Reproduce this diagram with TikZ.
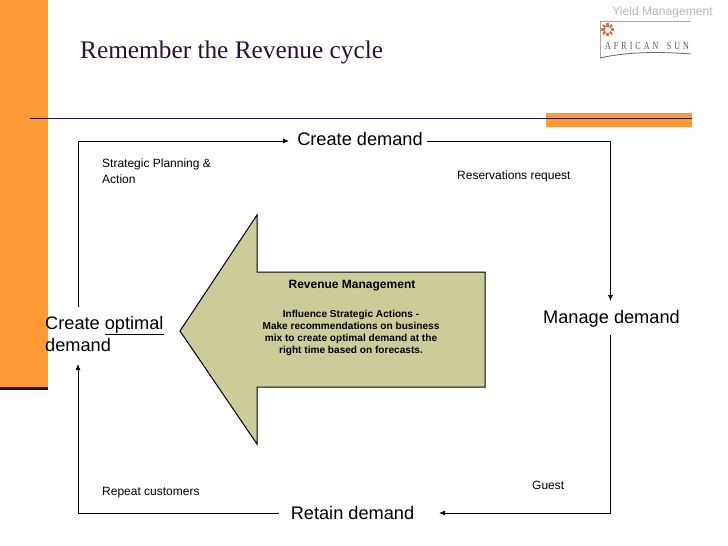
\documentclass[tikz,border=0pt]{standalone}
\usepackage{fontspec}
\setmainfont{Liberation Sans}
\newfontfamily\serifttl{Liberation Serif}
\usetikzlibrary{arrows.meta,calc}
\definecolor{orangebar}{HTML}{FF9933}
\definecolor{darkpurple}{HTML}{2A0F3A}
\definecolor{olive}{HTML}{CCCC99}
\definecolor{greytext}{HTML}{B8B8B8}
\definecolor{logoorange}{HTML}{DD7044}
\tikzset{
  big/.style={font=\fontsize{18.2}{22}\selectfont, text=black, inner xsep=8pt, inner ysep=4pt},
  small/.style={font=\fontsize{12}{16}\selectfont, text=black, inner sep=0pt, anchor=north west, align=left},
  conn/.style={draw=black, line width=0.85pt, -{Latex[length=6pt,width=5pt]}},
}
\begin{document}
\begin{tikzpicture}[x=1pt,y=-1pt]
\useasboundingbox (0,0) rectangle (728,546);
\fill[white] (0,0) rectangle (728,546);
% bands
\fill[orangebar] (0,0) rectangle (48,387);
\fill[darkpurple] (0,387) rectangle (48,390);
\fill[orangebar] (546,113) rectangle (692,127);
\draw[darkpurple, line width=1.2pt] (30,118.5) -- (692,118.5);
% header
\node[anchor=base west, inner sep=0pt, font=\serifttl\fontsize{25.3}{30}\selectfont, text=darkpurple] (title) at (80,58) {Remember the Revenue cycle};
\node[anchor=base east, inner sep=0pt, font=\fontsize{12.1}{14}\selectfont, text=greytext] (yield) at (713,15) {Yield Management};
% logo
\draw[gray!70, line width=0.5pt] (691,21) -- (600,21) -- (600,58);
\draw[gray!80!black, line width=0.8pt] (600,58) .. controls (630,51) and (665,52) .. (691,54);
\foreach \a in {0,45,...,315}
  \fill[logoorange, rotate around={\a:(607.5,29.5)}] (610.5,28.3) rectangle (614,30.7);
\node[anchor=base west, inner sep=0pt, yscale=1.35, font=\serifttl\fontsize{8}{10}\selectfont, text=gray!70!black] (logo) at (605,49) {A\hspace{3pt}F\hspace{3pt}R\hspace{3pt}I\hspace{3pt}C\hspace{3pt}A\hspace{3pt}N\hspace{8.5pt}S\hspace{3pt}U\hspace{3pt}N};
% arrow
\draw[fill=olive, draw=black, line width=1pt] (180,331) -- (257,215) -- (257,272) -- (485,272) -- (485,387) -- (257,387) -- (257,444) -- cycle;
\node[anchor=north, inner sep=0pt, align=center, font=\bfseries\fontsize{12}{14}\selectfont] (rmhead) at (352,280) {Revenue Management};
\node[anchor=north, inner sep=0pt, align=center, font=\bfseries\fontsize{10.1}{12.3}\selectfont] (rmbody) at (351,309.5) {Influence Strategic Actions -\\Make recommendations on business\\mix to create optimal demand at the\\right time based on forecasts.};
% cycle nodes
\node[big] (create) at (360,139) {Create demand};
\node[big] (manage) at (611.5,318.5) {Manage demand};
\node[big] (retain) at (352.5,512.5) {Retain demand};
\node[big, anchor=west, align=left, inner xsep=0pt, inner ysep=7pt, font=\fontsize{18.2}{22.5}\selectfont] (optimal) at (45,334) {Create \underline{optimal}\\demand};
% free corners
\coordinate (tl) at (78,141);
\coordinate (tr) at (610.5,141);
\coordinate (br) at (610.5,513);
\coordinate (bl) at (78,513);
\coordinate (optTop) at (78,307);
\coordinate (optBot) at (78,364);
\coordinate (cw) at (289,141);
\coordinate (ce) at (427,141);
\coordinate (mt) at (610.5,301);
\coordinate (mb) at (610.5,335);
\coordinate (re) at (439,513);
\coordinate (rw) at (279,513);
% connectors
\draw[conn] (optTop) -- (tl) -- (cw);
\draw[conn] (ce) -- (tr) -- (mt);
\draw[conn] (mb) -- (br) -- (re);
\draw[conn] (rw) -- (bl) -- (optBot);
% small labels
\node[small] (strat) at (102,159) {Strategic Planning \&\\Action};
\node[small] (res) at (457,171) {Reservations request};
\node[small] (guest) at (532,481) {Guest};
\node[small] (repeat) at (102,487) {Repeat customers};
\end{tikzpicture}
\end{document}
